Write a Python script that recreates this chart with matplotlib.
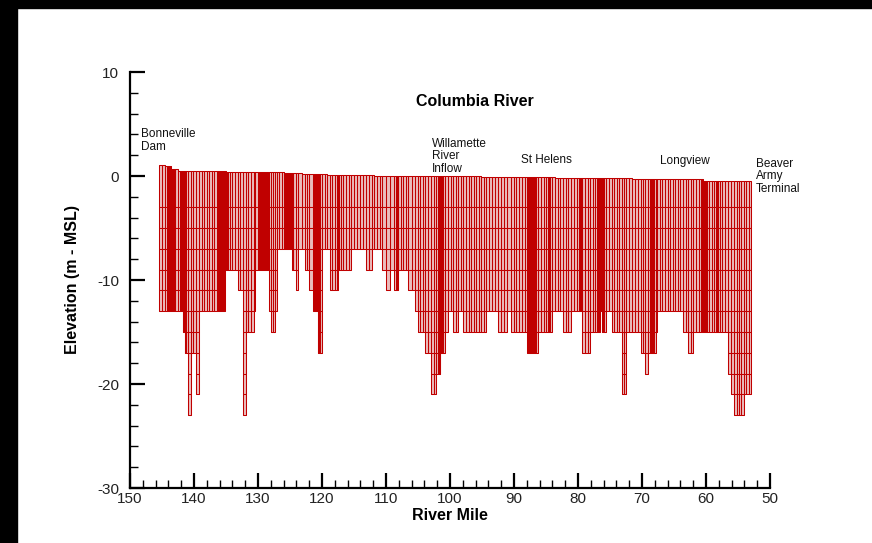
import numpy as np
import matplotlib.pyplot as plt
from matplotlib.patches import Rectangle
from matplotlib.collections import PatchCollection
from matplotlib.ticker import MultipleLocator

plt.rcParams['font.family'] = ['Liberation Sans', 'DejaVu Sans']
plt.rcParams['axes.unicode_minus'] = False

# bed segments along the river: segment edges (river mile) and bottom elevation (m)
seg_edges = [145.4, 141.7, 141.4, 141.0, 140.5, 139.7, 139.2, 135.2, 133.2, 132.3,
             131.9, 130.7, 130.5, 128.3, 128.0, 127.3, 127.1, 124.7, 124.1, 123.7,
             122.7, 122.0, 121.4, 120.7, 120.0, 118.8, 117.5, 115.4, 113.2, 112.2,
             110.6, 110.0, 109.4, 108.8, 108.1, 106.5, 105.5, 105.0, 103.9, 102.9,
             102.2, 101.5, 100.8, 100.3, 99.5, 98.7, 97.9, 94.3, 92.5, 91.1,
             90.5, 87.9, 86.2, 84.1, 82.3, 81.1, 79.3, 78.1, 76.6, 76.3,
             75.6, 74.7, 73.2, 72.5, 70.2, 69.5, 69.0, 67.8, 67.6, 63.6,
             62.8, 62.0, 56.6, 56.1, 55.6, 54.1, 52.9]
seg_bottom = [-13, -15, -17, -23, -17, -21, -13, -9, -11, -23,
              -15, -13, -9, -13, -15, -13, -7, -9, -11, -7,
              -9, -11, -13, -17, -7, -11, -9, -7, -9, -7,
              -9, -11, -9, -11, -9, -11, -13, -15, -17, -21,
              -19, -17, -15, -13, -15, -13, -15, -13, -15, -13,
              -15, -17, -15, -13, -15, -13, -17, -15, -13, -15,
              -13, -15, -21, -15, -17, -19, -17, -15, -13, -15,
              -17, -15, -19, -21, -23, -21]

# water surface (m) in steps
surf_edges = [145.5, 144.5, 143.6, 142.7, 135.0, 126.1, 123.4, 119.1, 112.0,
              95.3, 83.6, 71.6, 60.5, 52.8]
surf_elev = [1.1, 0.95, 0.7, 0.48, 0.38, 0.26, 0.19, 0.1, 0.0, -0.13, -0.22,
             -0.32, -0.45]

# layer interfaces of the grid
layer_z = [-3, -5, -7, -9, -11, -13, -15, -17, -19, -21, -23]

# stretches where the columns are very narrow
dense_start = [144.2, 142.2, 136.4, 129.8, 126.1, 121.4, 117.7, 108.6, 102.0,
               88.0, 84.8, 80.0, 76.9, 68.75, 60.6, 58.6]
dense_end = [143.0, 141.25, 134.7, 128.4, 124.5, 120.5, 117.3, 108.1, 101.25,
             86.6, 84.4, 79.4, 76.1, 68.3, 59.8, 58.1]

labels = ['Bonneville\nDam', 'Willamette\nRiver\nInflow', 'St Helens',
          'Longview', 'Beaver\nArmy\nTerminal']
label_mile = [148.3, 102.8, 88.9, 67.2, 52.2]
label_elev = [4.6, 3.65, 2.1, 2.0, 1.75]


def lookup(x, edges, vals):
    for a, b, v in zip(edges[:-1], edges[1:], vals):
        if a >= x >= b:
            return v
    return vals[-1]


# column edges of the grid
col_w = 0.42
edges = []
for a, b in zip(seg_edges[:-1], seg_edges[1:]):
    n = max(1, int(round((a - b) / col_w)))
    edges.extend(np.linspace(a, b, n + 1))
for a, b in zip(dense_start, dense_end):
    edges.extend(np.arange(b, a, 0.1))
edges = np.unique(np.round(edges, 3))

cells = []
for lo, hi in zip(edges[:-1], edges[1:]):
    c = 0.5 * (lo + hi)
    bot = lookup(c, seg_edges, seg_bottom)
    top = lookup(c, surf_edges, surf_elev)
    z = [top] + [l for l in layer_z if l >= bot]
    for z0, z1 in zip(z[:-1], z[1:]):
        cells.append(Rectangle((lo, z1), hi - lo, z0 - z1))

fig = plt.figure(figsize=(8.72, 5.43), dpi=100)
ax = fig.add_axes([130 / 872, 55 / 543, 640 / 872, 416 / 543])

ax.add_collection(PatchCollection(cells, facecolor='#eabcbc',
                                  edgecolor='#c00000', linewidth=0.75))

ax.set_xlim(150, 50)
ax.set_ylim(-30, 10)
for s in ['top', 'right']:
    ax.spines[s].set_visible(False)
for s in ['left', 'bottom']:
    ax.spines[s].set_linewidth(1.6)
ax.xaxis.set_major_locator(MultipleLocator(10))
ax.xaxis.set_minor_locator(MultipleLocator(2))
ax.yaxis.set_major_locator(MultipleLocator(10))
ax.yaxis.set_minor_locator(MultipleLocator(2))
ax.tick_params(which='major', direction='in', length=11, width=1.6,
               labelsize=11, labelcolor='#222222')
ax.tick_params(which='minor', direction='in', length=5.5, width=1.0)
ax.tick_params(axis='y', which='major', pad=8)
ax.tick_params(axis='x', which='major', pad=3)

ax.set_xlabel('River Mile', fontsize=11.5, fontweight='bold', labelpad=1)
ax.set_ylabel('Elevation (m - MSL)', fontsize=11.5, fontweight='bold', labelpad=12)
ax.text(96.1, 7.2, 'Columbia River', fontsize=11.5, fontweight='bold',
        ha='center', va='center')

for t, x, y in zip(labels, label_mile, label_elev):
    ax.text(x, y, t, fontsize=8.5, ha='left', va='top', linespacing=1.05,
            color='#111111')

# black frame strips like the screen capture
fig.add_artist(Rectangle((0, 0), 17 / 872, 1, transform=fig.transFigure,
                         color='black', zorder=10))
fig.add_artist(Rectangle((0, 1 - 8 / 543), 1, 8 / 543, transform=fig.transFigure,
                         color='black', zorder=10))

fig.savefig('out.png', dpi=100)
